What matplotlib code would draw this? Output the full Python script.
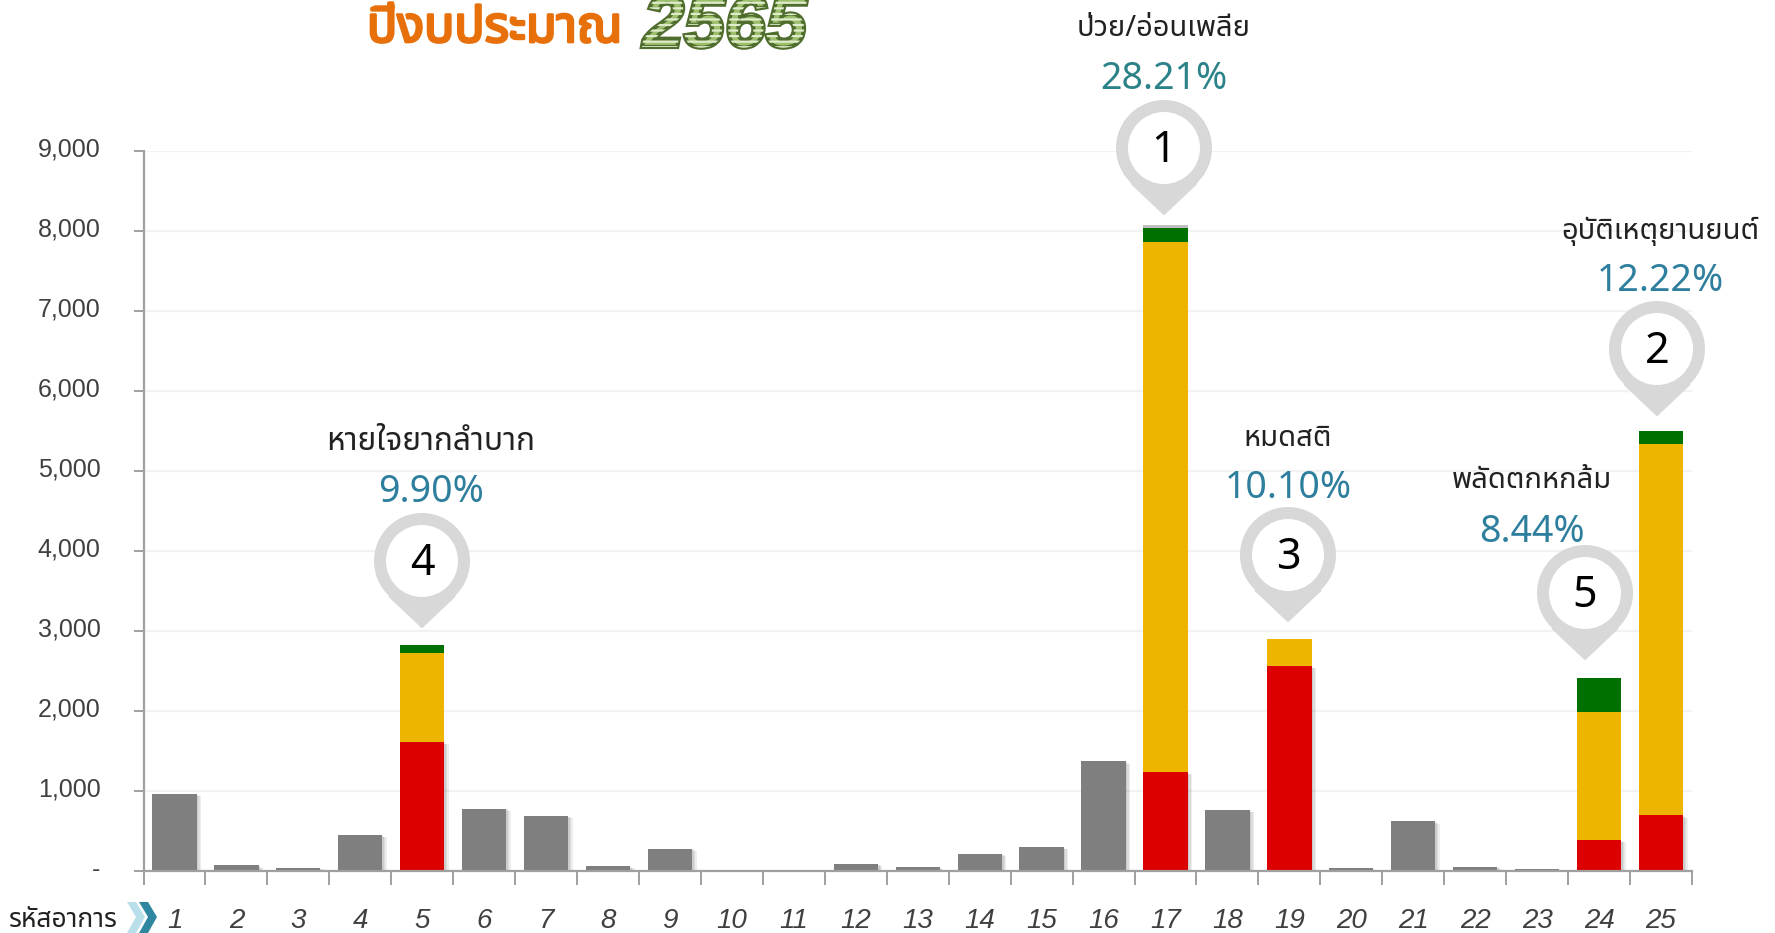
import matplotlib
matplotlib.use("Agg")
import matplotlib.pyplot as plt
import matplotlib.patheffects as pe
from matplotlib.patches import Circle, Polygon
from matplotlib.transforms import ScaledTranslation

W, H = 1775, 933
categories = [str(i) for i in range(1, 26)]
gray_vals = [965, 70, 40, 450, 0, 780, 690, 60, 280, 0, 0, 90, 45, 215, 300, 1370, 0, 760, 0, 35, 620, 55, 25, 0, 0]
red_vals = [0, 0, 0, 0, 1610, 0, 0, 0, 0, 0, 0, 0, 0, 0, 0, 0, 1235, 0, 2560, 0, 0, 0, 0, 385, 695]
yellow_vals = [0, 0, 0, 0, 1120, 0, 0, 0, 0, 0, 0, 0, 0, 0, 0, 0, 6630, 0, 340, 0, 0, 0, 0, 1600, 4645]
green_vals = [0, 0, 0, 0, 100, 0, 0, 0, 0, 0, 0, 0, 0, 0, 0, 0, 175, 0, 0, 0, 0, 0, 0, 425, 160]
top_vals = [0]*16 + [30] + [0]*8
y_ticks = [0, 1000, 2000, 3000, 4000, 5000, 6000, 7000, 8000, 9000]
y_labels = ['-', '1,000', '2,000', '3,000', '4,000', '5,000', '6,000', '7,000', '8,000', '9,000']
names = ['ป่วย/อ่อนเพลีย', 'อุบัติเหตุยานยนต์', 'หมดสติ', 'หายใจยากลำบาก', 'พลัดตกหกล้ม']
percents = ['28.21%', '12.22%', '10.10%', '9.90%', '8.44%']
ranks = ['1', '2', '3', '4', '5']
pct_colors = ['#2b8289', '#2e7f9e', '#2e7f9e', '#2e7f9e', '#2e7f9e']
pin_xy = [(1164, 148), (1657, 349), (1288, 555), (422, 561), (1585, 593)]
name_xy = [(1164, 28), (1660, 231), (1288, 439), (431, 442), (1532, 481)]
name_sizes = [21, 21, 21, 22.8, 21]
pct_xy = [(1164, 79), (1660, 281), (1288, 488), (431, 492), (1532, 532)]

thai = ['Noto Sans Thai', 'Noto Sans Thai Looped', 'Loma', 'Garuda', 'Norasi', 'Noto Sans', 'DejaVu Sans']
plt.rcParams['font.family'] = ['Liberation Sans', 'DejaVu Sans']
plt.rcParams['hatch.linewidth'] = 1.6

fig = plt.figure(figsize=(W/100, H/100), dpi=100)
left, right, top, bottom = 143.5, 1692, 151, 871
ax = fig.add_axes([left/W, 1-bottom/H, (right-left)/W, (bottom-top)/H])
ax.set_xlim(0.5, 25.5)
ax.set_ylim(0, 9000)
ax.set_axisbelow(True)
ax.grid(axis='y', color='#f2f2f2', lw=1.6)
x = list(range(1, 26))
shadow = [pe.SimplePatchShadow(offset=(o, -o/2), shadow_rgbFace='#000000', alpha=0.07) for o in (3.2, 2.2, 1.2)] + [pe.Normal()]
bottoms = [0]*25
for vals, col in [(gray_vals, '#7f7f7f'), (red_vals, '#dc0000'), (yellow_vals, '#edb500'), (green_vals, '#007000'), (top_vals, '#bfbfbf')]:
    bars = ax.bar(x, vals, width=0.715, bottom=bottoms, color=col, linewidth=0, zorder=3)
    if col in ('#7f7f7f', '#dc0000'):
        for b in bars:
            b.set_path_effects(shadow)
    bottoms = [a+b for a, b in zip(bottoms, vals)]

for s in ('top', 'right'):
    ax.spines[s].set_visible(False)
for s in ('left', 'bottom'):
    ax.spines[s].set_color('#a0a0a0')
    ax.spines[s].set_linewidth(1.6)
ax.spines['bottom'].set_zorder(5)
ax.set_yticks(y_ticks, y_labels, fontsize=18, color='#404040')
ax.tick_params(axis='y', length=7, width=1.4, color='#a0a0a0', pad=24)
ax.set_xticks([i+0.5 for i in range(0, 26)], [''] * 26)
ax.tick_params(axis='x', length=10, width=1.4, color='#a0a0a0')
ax.set_xticks(x, categories, minor=True, fontsize=20, color='#404040', style='italic')
ax.tick_params(axis='x', which='minor', length=0, pad=27)

# full-figure pixel overlay
ov = fig.add_axes([0, 0, 1, 1], facecolor='none')
ov.set_xlim(0, W)
ov.set_ylim(H, 0)
ov.axis('off')
for i, (cx, cy) in enumerate(pin_xy):
    R, r = 48, 36
    tip = cy + 66
    ov.add_patch(Circle((cx, cy), R, fc='#d8d8d8', ec='none', zorder=6))
    ov.add_patch(Polygon([(cx-32.4, cy+35.4), (cx, tip), (cx+32.4, cy+35.4)], closed=True, fc='#d8d8d8', ec='#d8d8d8', lw=1.5, joinstyle='round', zorder=6))
    ov.add_patch(Circle((cx, cy), r, fc='white', ec='none', zorder=7))
    ov.text(cx, cy+3, ranks[i], fontsize=31, family=['Noto Sans'], ha='center', va='center', color='black', zorder=8)
    ov.text(*name_xy[i], names[i], fontsize=name_sizes[i], family=thai, ha='center', va='center', color='#222222', zorder=8)
    ov.text(*pct_xy[i], percents[i], fontsize=27, family=['Noto Sans'], ha='center', va='center', color=pct_colors[i], zorder=8)

# title
ov.text(367, 42, 'ปีงบประมาณ', fontsize=36, family=thai, color='#e8700a', ha='left', va='baseline', zorder=8,
        path_effects=[pe.withStroke(linewidth=2, foreground='#e8700a')])
ov.text(643, 47, '2565', fontsize=53, family=['Liberation Sans'], weight='bold', style='italic', ha='left', va='baseline', zorder=8,
        color='#9dbf6c',
        path_effects=[pe.PathPatchEffect(edgecolor='#4f6d2c', linewidth=3, facecolor='#9dbf6c'),
                      pe.PathPatchEffect(edgecolor='#dfeccb', linewidth=0, facecolor='none', hatch='---')])

# x-axis caption with chevrons
ov.text(9, 920, 'รหัสอาการ', fontsize=19, family=thai, ha='left', va='center', color='#222222', zorder=8)
def chevron(x0, col):
    ov.add_patch(Polygon([(x0, 902), (x0+9, 902), (x0+18, 917), (x0+9, 933), (x0, 933), (x0+9, 917)], closed=True, fc=col, ec='none', zorder=8))
chevron(127, '#b8dfea')
chevron(139, '#2e86a0')

up = ScaledTranslation(0, 3.5/100, fig.dpi_scale_trans)
for tick in ax.yaxis.get_major_ticks():
    tick.label1.set_transform(tick.label1.get_transform() + up)

fig.savefig('out.png', dpi=100)
